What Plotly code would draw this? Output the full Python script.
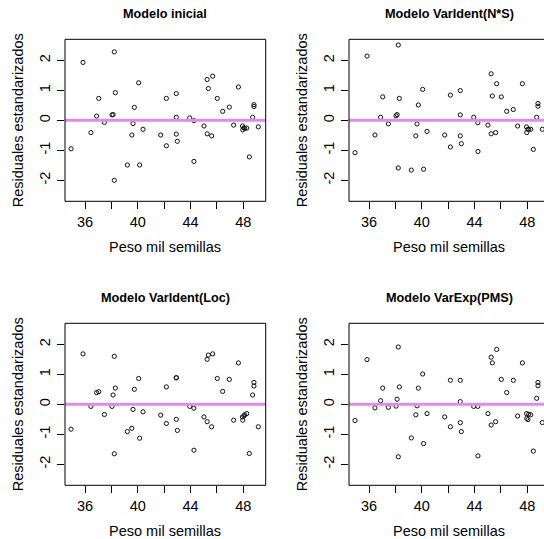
import plotly.graph_objects as go

# ---------------- data ----------------
peso = [34.94, 35.85, 36.45, 36.88, 37.04, 37.47, 38.05, 38.13, 38.22, 38.30,
        38.22, 39.21, 39.55, 39.64, 39.74, 40.07, 40.14, 40.40, 41.74, 42.17,
        42.17, 42.92, 42.92, 42.92, 43.00, 43.94, 44.25, 44.26, 45.02, 45.26,
        45.35, 45.26, 45.60, 45.68, 46.03, 46.44, 46.94, 47.27, 47.63, 47.94,
        47.96, 48.05, 48.10, 48.26, 48.46, 48.71, 48.81, 48.81, 49.14]

res_inicial = [-0.95, 1.93, -0.41, 0.14, 0.73, -0.07, 0.18, 0.19, 2.28, 0.92,
               -2.00, -1.49, -0.49, -0.11, 0.43, 1.25, -1.49, -0.30, -0.49, 0.73,
               -0.85, 0.89, 0.10, -0.46, -0.70, 0.08, -0.01, -1.37, -0.19, 1.36,
               1.06, -0.45, -0.52, 1.47, 0.73, 0.30, 0.44, -0.16, 1.11, -0.19,
               -0.32, -0.25, -0.27, -0.26, -1.22, 0.10, 0.52, 0.46, -0.22]

res_ns = [-1.08, 2.14, -0.49, 0.10, 0.78, -0.12, 0.15, 0.19, 2.51, 0.73,
          -1.59, -1.66, -0.52, -0.12, 0.51, 1.03, -1.63, -0.37, -0.49, 0.84,
          -0.89, 0.99, 0.18, -0.52, -0.78, 0.10, -0.08, -1.04, -0.16, 1.55,
          0.81, -0.45, -0.41, 1.22, 0.78, 0.30, 0.36, -0.19, 1.22, -0.22,
          -0.41, -0.30, -0.30, -0.30, -0.97, 0.10, 0.56, 0.47, -0.30]

res_loc = [-0.83, 1.68, -0.07, 0.39, 0.42, -0.34, -0.07, 0.31, 1.60, 0.54,
           -1.65, -0.91, -0.80, -0.17, 0.50, 0.86, -1.13, -0.25, -0.36, 0.58,
           -0.64, 0.89, 0.88, -0.50, -0.87, -0.07, -0.13, -1.53, -0.42, 1.50,
           1.64, -0.58, -0.75, 1.68, 0.86, 0.43, 0.83, -0.53, 1.38, -0.42,
           -0.53, -0.39, -0.35, -0.31, -1.64, 0.31, 0.73, 0.61, -0.75]

res_pms = [-0.54, 1.49, -0.12, 0.12, 0.54, -0.10, -0.06, 0.17, 1.91, 0.58,
           -1.75, -1.12, -0.35, -0.05, 0.54, 1.01, -1.31, -0.31, -0.42, 0.80,
           -0.75, 0.80, 0.09, -0.61, -0.91, -0.07, -0.07, -1.72, -0.31, 1.57,
           1.38, -0.69, -0.58, 1.83, 0.83, 0.39, 0.80, -0.39, 1.38, -0.31,
           -0.47, -0.51, -0.33, -0.35, -1.56, 0.20, 0.73, 0.62, -0.61]

titles = ["Modelo inicial", "Modelo VarIdent(N*S)", "Modelo VarIdent(Loc)", "Modelo VarExp(PMS)"]
series = [res_inicial, res_ns, res_loc, res_pms]

x_tickvals = [36, 38, 40, 42, 44, 46, 48]
x_ticktext = ["36", "", "40", "", "44", "", "48"]
y_tickvals = [-2, -1, 0, 1, 2]
y_ticktext = ["-2", "-1", "0", "1", "2"]
x_title = "Peso mil semillas"
y_title = "Residuales estandarizados"

# ---------------- layout (pixels) ----------------
W, H = 544, 539
STEP = 284          # panel pitch
BOX_L, BOX_T = 65.0, 39.3
BOX_W, BOX_H = 200.7, 162.0
PPU_X = 13.19       # px per x unit
X36_OFF = 20.0      # px from box left to x=36
FONT = "Liberation Sans, Arial, sans-serif"

fig = go.Figure()
layout = dict(width=W, height=H, margin=dict(l=0, r=0, t=0, b=0), autosize=False,
              paper_bgcolor="white", plot_bgcolor="white", showlegend=False)
shapes, annotations = [], []

for i, (ttl, vals) in enumerate(zip(titles, series)):
    row, col = divmod(i, 2)
    L = BOX_L + STEP * col
    R = L + BOX_W
    T = BOX_T + STEP * row
    B = T + BOX_H
    Rv = min(R, W)
    xmin = 36 - X36_OFF / PPU_X
    xmax = xmin + (Rv - L) / PPU_X
    n = "" if i == 0 else str(i + 1)
    layout["xaxis" + n] = dict(domain=[L / W, Rv / W], range=[xmin, xmax], anchor="y" + n,
                               showgrid=False, zeroline=False, showline=False,
                               ticks="outside", ticklen=7, tickwidth=1, tickcolor="black",
                               tickvals=x_tickvals, ticktext=x_ticktext,
                               tickfont=dict(family=FONT, size=14.5, color="black"))
    layout["yaxis" + n] = dict(domain=[1 - B / H, 1 - T / H], range=[-2.7, 2.7], anchor="x" + n,
                               showgrid=False, zeroline=False, showline=False,
                               ticks="outside", ticklen=7, tickwidth=1, tickcolor="black",
                               tickvals=y_tickvals, ticktext=y_ticktext, tickangle=-90,
                               ticklabelstandoff=1,
                               tickfont=dict(family=FONT, size=14.5, color="black"))
    fig.add_trace(go.Scatter(x=peso, y=vals, mode="markers", xaxis="x" + n, yaxis="y" + n,
                             marker=dict(symbol="circle-open", size=4.2, color="#111111",
                                         line=dict(width=1)),
                             cliponaxis=True, hoverinfo="skip"))
    # zero line
    shapes.append(dict(type="line", xref="x" + n + " domain", x0=0, x1=1,
                       yref="y" + n, y0=0, y1=0,
                       line=dict(color="#EE82EE", width=3), layer="above"))
    # box
    shapes.append(dict(type="rect", xref="paper", yref="paper",
                       x0=L / W, x1=R / W, y0=1 - B / H, y1=1 - T / H,
                       line=dict(color="black", width=1), fillcolor="rgba(0,0,0,0)",
                       layer="above"))
    cx = (L + R) / 2
    annotations.append(dict(text="<b>" + ttl + "</b>", xref="paper", yref="paper",
                            x=cx / W, y=1 - (14 + STEP * row) / H, showarrow=False,
                            xanchor="center", yanchor="middle",
                            font=dict(family=FONT, size=12.7, color="black")))
    annotations.append(dict(text=x_title, xref="paper", yref="paper",
                            x=cx / W, y=1 - (247 + STEP * row) / H, showarrow=False,
                            xanchor="center", yanchor="middle",
                            font=dict(family=FONT, size=14.5, color="black")))
    annotations.append(dict(text=y_title, xref="paper", yref="paper",
                            x=(18 + STEP * col) / W, y=1 - ((T + B) / 2) / H, showarrow=False,
                            xanchor="center", yanchor="middle", textangle=-90,
                            font=dict(family=FONT, size=14.5, color="black")))

layout["shapes"] = shapes
layout["annotations"] = annotations
fig.update_layout(**layout)
fig.write_html("out.html")
